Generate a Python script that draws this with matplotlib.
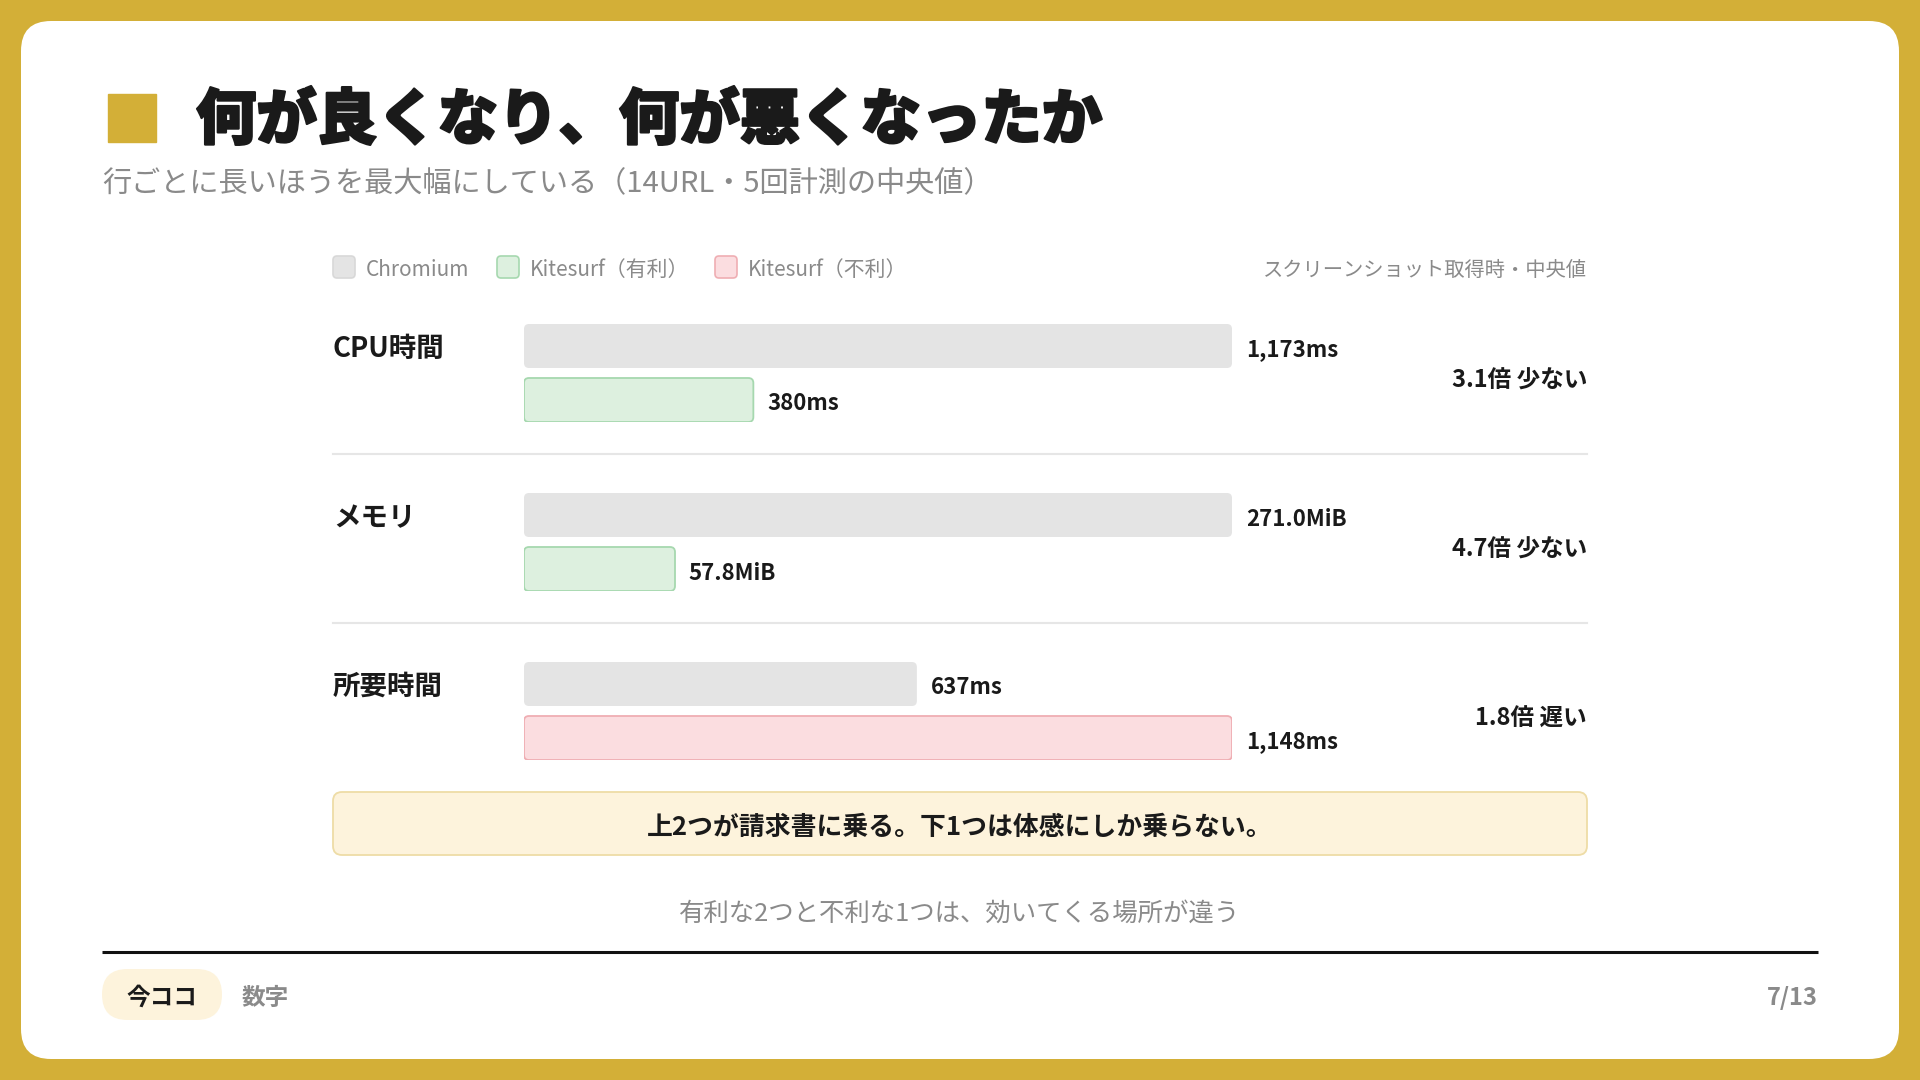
import matplotlib
matplotlib.use("Agg")
import matplotlib.pyplot as plt
import matplotlib.patheffects as pe
from matplotlib.patches import FancyBboxPatch

plt.rcParams['font.family'] = ['Noto Sans CJK JP', 'DejaVu Sans']

# data
metrics = ['CPU時間', 'メモリ', '所要時間']
chromium = [1173, 271.0, 637]
kitesurf = [380, 57.8, 1148]
units = ['ms', 'MiB', 'ms']
decimals = [0, 1, 0]
verdict = ['少ない', '少ない', '遅い']
kitesurf_good = [True, True, False]

legend_labels = ['Chromium', 'Kitesurf（有利）', 'Kitesurf（不利）']

title = '何が良くなり、何が悪くなったか'
subtitle = '行ごとに長いほうを最大幅にしている（14URL・5回計測の中央値）'
note = 'スクリーンショット取得時・中央値'
callout = '上2つが請求書に乗る。下1つは体感にしか乗らない。'
caption = '有利な2つと不利な1つは、効いてくる場所が違う'
section = '数字'
page = '7/13'

# colours
GOLD = '#D3AF37'
GRAY_BAR = '#E4E4E4'
GREEN_FILL, GREEN_EDGE = '#DDF0DF', '#A6D8AF'
RED_FILL, RED_EDGE = '#FBDDE0', '#EFAEB3'
CREAM, CREAM_EDGE = '#FDF3DC', '#EEDCA6'
INK = '#1A1A1A'
MUTED = '#8A8A8A'

W, H = 1920, 1080
DY = 3  # text sits a little high with va='center'
fig = plt.figure(figsize=(19.2, 10.8), dpi=100, facecolor=GOLD)
ax = fig.add_axes([0, 0, 1, 1])
ax.set_xlim(0, W)
ax.set_ylim(H, 0)
ax.axis('off')


def rbox(x, y, w, h, r, fc, ec='none', lw=0, z=1):
    p = FancyBboxPatch((x, y), w, h, boxstyle=f'round,pad=0,rounding_size={r}',
                       fc=fc, ec=ec, lw=lw, zorder=z)
    ax.add_patch(p)
    return p


# card
rbox(21, 21, 1878, 1038, 30, 'white')

# header
ax.add_patch(plt.Rectangle((108, 94), 48, 48, color=GOLD, zorder=2))
ax.text(196, 118 + DY, title, fontsize=43.5, fontweight='black', color=INK,
        va='center', ha='left',
        path_effects=[pe.withStroke(linewidth=1.6, foreground=INK)])
ax.text(102, 181 + DY, subtitle, fontsize=21, color=MUTED, va='center', ha='left')

# legend
leg_x = [333, 497, 715]
leg_style = [(GRAY_BAR, '#D8D8D8'), (GREEN_FILL, GREEN_EDGE), (RED_FILL, RED_EDGE)]
for lx, lab, (fc, ec) in zip(leg_x, legend_labels, leg_style):
    rbox(lx, 256, 22, 22, 4, fc, ec, 1.2, z=2)
    ax.text(lx + 33, 267 + DY, lab, fontsize=15, color=MUTED, va='center', ha='left')
ax.text(1587, 267 + DY, note, fontsize=14.6, color=MUTED, va='center', ha='right')

# rows
bar_x0, bar_x1 = 524, 1232
row_top0, row_step = 324, 169
bar_h, gap = 44, 10
row_h = 2 * bar_h + gap
for i, m in enumerate(metrics):
    top = row_top0 + i * row_step
    vmax = max(chromium[i], kitesurf[i])
    rax = fig.add_axes([bar_x0 / W, 1 - (top + row_h) / H,
                        (bar_x1 - bar_x0) / W, row_h / H])
    rax.set_xlim(0, vmax)
    rax.set_ylim(row_h, 0)
    rax.axis('off')
    fc2, ec2 = (GREEN_FILL, GREEN_EDGE) if kitesurf_good[i] else (RED_FILL, RED_EDGE)
    ys = [bar_h / 2, bar_h + gap + bar_h / 2]
    bars = rax.barh(ys, [chromium[i], kitesurf[i]], height=bar_h, left=0)
    styles = [(GRAY_BAR, 'none', 0), (fc2, ec2, 1.3)]
    px_per_x = (bar_x1 - bar_x0) / vmax
    r_x = 5 / px_per_x
    for b, (fc, ec, lw) in zip(bars, styles):
        rp = FancyBboxPatch((b.get_x(), b.get_y()), b.get_width(), b.get_height(),
                            boxstyle=f'round,pad=0,rounding_size={r_x}',
                            mutation_aspect=px_per_x, fc=fc, ec=ec, lw=lw)
        rax.add_patch(rp)
        b.remove()
    for v, yc in zip([chromium[i], kitesurf[i]], ys):
        lab = f'{v:,.{decimals[i]}f}{units[i]}'
        rax.annotate(lab, (v, yc + DY + 1), xytext=(10, 0), textcoords='offset points',
                     fontsize=16, fontweight='bold', color=INK, va='center', ha='left',
                     annotation_clip=False)
    ratio = max(chromium[i], kitesurf[i]) / min(chromium[i], kitesurf[i])
    ax.text(333, top + bar_h / 2 + DY, m, fontsize=19.8, fontweight='bold', color=INK,
            va='center', ha='left')
    ax.text(1587, top + 57, f'{ratio:.1f}倍 {verdict[i]}', fontsize=17,
            fontweight='bold', color=INK, va='center', ha='right')
    if i < len(metrics) - 1:
        ax.plot([333, 1587], [top + 130] * 2, color='#E6E6E6', lw=1.5, zorder=1)

# callout
rbox(333, 792, 1254, 63, 9, CREAM, CREAM_EDGE, 1.3, z=2)
ax.text(960, 824 + DY, callout, fontsize=18.6, fontweight='bold', color=INK,
        va='center', ha='center', zorder=3)
ax.text(960, 911 + DY, caption, fontsize=18.3, color=MUTED, va='center', ha='center')

# footer
ax.plot([102, 1818], [952, 952], color='#111111', lw=2.2, solid_capstyle='butt')
rbox(102, 969, 120, 51, 25.5, CREAM, z=2)
ax.text(162, 995 + DY, '今ココ', fontsize=17, fontweight='bold', color=INK,
        va='center', ha='center', zorder=3)
ax.text(242, 995 + DY, section, fontsize=17, fontweight='bold', color=MUTED,
        va='center', ha='left')
ax.text(1818, 995 + DY, page, fontsize=17, fontweight='bold', color=MUTED,
        va='center', ha='right')

fig.savefig('out.png', dpi=100, facecolor=GOLD)
